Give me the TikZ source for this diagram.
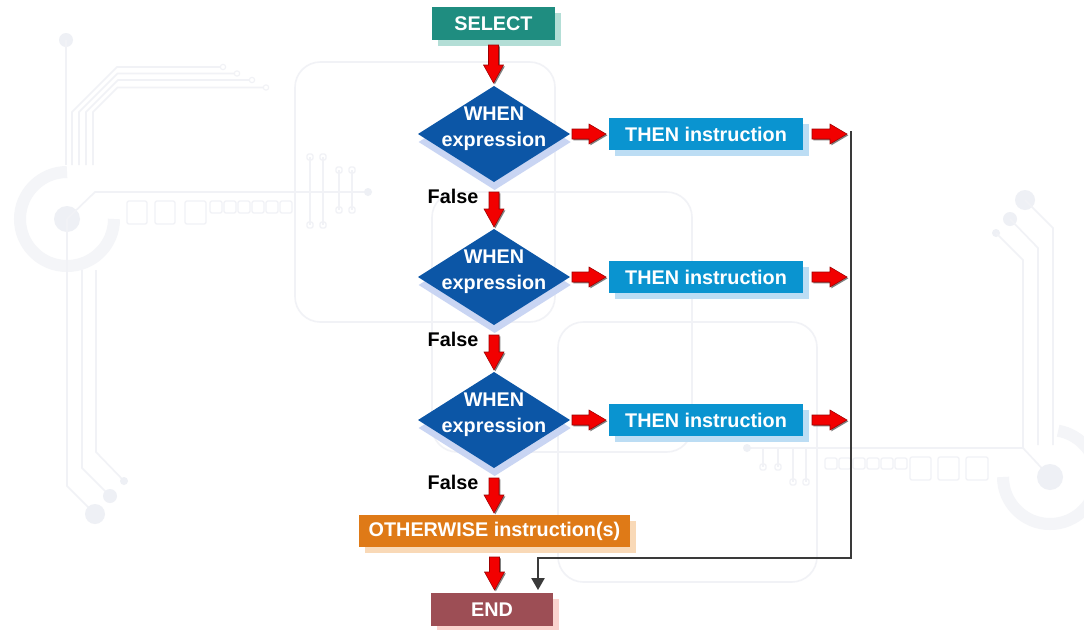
\documentclass[tikz,border=0pt]{standalone}
\usepackage{fontspec}
\setmainfont{Liberation Sans}
\usetikzlibrary{shapes.geometric,shadows,calc,arrows.meta}
\definecolor{selC}{HTML}{1F8D80}
\definecolor{selS}{HTML}{B3DED6}
\definecolor{whenC}{HTML}{0C56A6}
\definecolor{whenS}{HTML}{C9D5F3}
\definecolor{thenC}{HTML}{0A94D0}
\definecolor{thenS}{HTML}{BCDDF4}
\definecolor{othC}{HTML}{DF7A17}
\definecolor{othS}{HTML}{F9D9B7}
\definecolor{endC}{HTML}{9D4E55}
\definecolor{endS}{HTML}{FAD3CE}
\definecolor{arrRed}{HTML}{F20000}
\definecolor{lineC}{HTML}{3A3A3A}
\definecolor{bgL}{HTML}{F1F2F6}
\definecolor{bgD}{HTML}{EEF0F5}
\definecolor{bgR}{HTML}{F4F5F8}
\begin{document}
\begin{tikzpicture}[x=0.75pt,y=-0.75pt,
  lbl/.style={font=\bfseries\fontsize{14.85}{19.5}\selectfont},
  box/.style 2 args={rectangle, fill=#1, general shadow={fill=#2, shadow xshift=4.5pt, shadow yshift=-4.5pt}, text=white, lbl, inner sep=0pt, outer sep=0pt},
  whenbox/.style={diamond, fill=whenC, minimum width=114pt, minimum height=72pt, inner sep=0pt, outer sep=0pt, general shadow={fill=whenS, shadow xshift=0.5pt, shadow yshift=-6pt}, label={[whentext]center:{WHEN\\expression}}},
  whentext/.style={text=white, lbl, align=center, yshift=3.75pt},
  falsetext/.style={text=black, lbl, inner sep=0pt},
  redarrow/.style={fill=arrRed, draw=arrRed!65!black, line width=0.4pt, line join=miter, general shadow={fill=black!50, shadow xshift=1pt, shadow yshift=-1pt}},
  redv/.style 2 args={redarrow, to path={let \p1=(\tikztostart), \p2=(\tikztotarget) in
     ({\x1-3.75pt},{\y1-#1}) -- ({\x1+3.75pt},{\y1-#1}) -- ({\x1+3.75pt},{\y2+#2+13.5pt})
     -- ({\x1+7.5pt},{\y2+#2+13.5pt}) -- ({\x1},{\y2+#2}) -- ({\x1-7.5pt},{\y2+#2+13.5pt})
     -- ({\x1-3.75pt},{\y2+#2+13.5pt}) -- cycle}},
  redh/.style 2 args={redarrow, to path={let \p1=(\tikztostart), \p2=(\tikztotarget) in
     ({\x1+#1},{\y1-3.75pt}) -- ({\x2-#2-12.75pt},{\y1-3.75pt}) -- ({\x2-#2-12.75pt},{\y1-7.5pt})
     -- ({\x2-#2},{\y1}) -- ({\x2-#2-12.75pt},{\y1+7.5pt}) -- ({\x2-#2-12.75pt},{\y1+3.75pt})
     -- ({\x1+#1},{\y1+3.75pt}) -- cycle}},
  flowline/.style={draw=lineC, line width=1.1pt},
  bgl/.style={draw=bgL, line width=1.2pt},
  bgbox/.style={draw=bgL, line width=1.2pt, rounded corners=19pt},
  bgsq/.style={draw=bgL, line width=1pt, rounded corners=1.5pt},
  bgdot/.style={fill=bgD},
]
\useasboundingbox (0,0) rectangle (1084,629);
\fill[white] (0,0) rectangle (1084,629);

% ---------- faint background ----------
\draw[bgbox] (295,62) rectangle (555,322);
\draw[bgbox] (432,192) rectangle (692,452);
\draw[bgbox] (558,322) rectangle (817,582);

% left motif
\fill[bgdot] (66,40) circle (5.25pt);
\draw[bgl] (66,40) -- (66,165);
\foreach \i/\h/\e in {0/67/220,1/73.5/234,2/80/249,3/87.5/263}{
  \draw[bgl] (72+7*\i,165) -- (72+7*\i,112) -- ({72+7*\i+112-\h},\h) -- (\e,\h);
  \draw[bgl, line width=0.8pt] (\e+3,\h) circle (2pt);
}
\draw[draw=bgR, line width=9pt] ($(67,219)+(0pt,35.25pt)$) arc[start angle=90, end angle=360, radius=35.25pt];
\fill[bgdot] (67,219) circle (9.75pt);
\draw[bgl] (67,219) -- (95,192) -- (368,192);
\fill[bgdot] (368,192) circle (3pt);
\draw[bgsq] (127,201) rectangle (147,224);
\draw[bgsq] (155,201) rectangle (175,224);
\draw[bgsq] (185,201) rectangle (206,224);
\foreach \k in {0,...,5}{\draw[bgsq] (210+14*\k,201) rectangle (222+14*\k,213);}
\draw[bgl] (310,157) -- (310,225); \draw[bgl] (323,157) -- (323,225);
\draw[bgl] (339,170) -- (339,210); \draw[bgl] (352,170) -- (352,210);
\foreach \xx/\yy in {310/157,323/157,310/225,323/225,339/170,352/170,339/210,352/210}{
  \draw[bgsq] (\xx-3,\yy-3) rectangle (\xx+3,\yy+3);}
\draw[bgl] (67,219) -- (67,486) -- (95,514);
\draw[bgl] (82,270) -- (82,468) -- (110,496);
\draw[bgl] (96,270) -- (96,452) -- (124,481);
\fill[bgdot] (95,514) circle (7.5pt);
\fill[bgdot] (110,496) circle (5.25pt);
\fill[bgdot] (124,481) circle (3pt);

% right motif
\fill[bgdot] (1025,200) circle (7.5pt);
\fill[bgdot] (1010,219) circle (5.25pt);
\fill[bgdot] (996,233) circle (3pt);
\draw[bgl] (1025,200) -- (1053,228) -- (1053,445);
\draw[bgl] (1010,219) -- (1038,248) -- (1038,445);
\draw[bgl] (996,233) -- (1023,260) -- (1023,448) -- (1050,477);
\draw[bgl] (747,448) -- (1023,448);
\fill[bgdot] (747,448) circle (3pt);
\draw[draw=bgR, line width=9pt] ($(1050,477)+(-35.25pt,0pt)$) arc[start angle=180, end angle=440, radius=35.25pt];
\fill[bgdot] (1050,477) circle (9.75pt);
\draw[bgl] (763,448) -- (763,467); \draw[bgl] (778,448) -- (778,467);
\draw[bgl] (793,448) -- (793,482); \draw[bgl] (806,448) -- (806,482);
\foreach \xx/\yy in {763/467,778/467,793/482,806/482}{
  \draw[bgsq] (\xx-3,\yy-3) rectangle (\xx+3,\yy+3);}
\foreach \k in {0,...,5}{\draw[bgsq] (825+14*\k,458) rectangle (837+14*\k,469);}
\draw[bgsq] (910,457) rectangle (931,480);
\draw[bgsq] (938,457) rectangle (959,480);
\draw[bgsq] (966,457) rectangle (988,480);

% ---------- flowchart ----------
\node[box={selC}{selS}, minimum width=92.25pt, minimum height=24.75pt] (sel) at (493.5,23.5) {SELECT};

\node[whenbox] (w1) at (494,134) {};
\node[whenbox] (w2) at (494,277) {};
\node[whenbox] (w3) at (494,420) {};

\node[box={thenC}{thenS}, minimum width=145.5pt, minimum height=24pt] (t1) at (706,134) {THEN instruction};
\node[box={thenC}{thenS}, minimum width=145.5pt, minimum height=24pt] (t2) at (706,277) {THEN instruction};
\node[box={thenC}{thenS}, minimum width=145.5pt, minimum height=24pt] (t3) at (706,420) {THEN instruction};

\node[box={othC}{othS}, minimum width=203.25pt, minimum height=24pt] (oth) at (494.5,531) {OTHERWISE instruction(s)};
\node[box={endC}{endS}, minimum width=91.5pt, minimum height=24.75pt] (endn) at (492,609.5) {END};

\node[falsetext] (f1) at (453,196) {False};
\node[falsetext] (f2) at (453,339) {False};
\node[falsetext] (f3) at (453,482) {False};

\coordinate (ltop) at (851,131);
\coordinate (r1) at (851,134);
\coordinate (r2) at (851,277);
\coordinate (r3) at (851,420);
\coordinate (lbot) at (851,558);

% black return line
\draw[flowline, -{Triangle[width=10pt,length=9pt]}] (ltop) -- (lbot) -| ($(endn.north)+(46,-3)$);

% red block arrows
\path[redv={3.75pt}{2.25pt}] (sel.south) to (w1.north);
\path[redv={7.5pt}{1.5pt}] (w1.south) to (w2.north);
\path[redv={7.5pt}{1.5pt}] (w2.south) to (w3.north);
\path[redv={7.5pt}{1.5pt}] (w3.south) to (oth.north);
\path[redv={7.5pt}{2.25pt}] (oth.south) to (endn.north);

\path[redh={1.5pt}{2.25pt}] (w1.east) to (t1.west);
\path[redh={1.5pt}{2.25pt}] (w2.east) to (t2.west);
\path[redh={1.5pt}{2.25pt}] (w3.east) to (t3.west);
\path[redh={6.75pt}{3pt}] (t1.east) to (r1);
\path[redh={6.75pt}{3pt}] (t2.east) to (r2);
\path[redh={6.75pt}{3pt}] (t3.east) to (r3);
\end{tikzpicture}
\end{document}
